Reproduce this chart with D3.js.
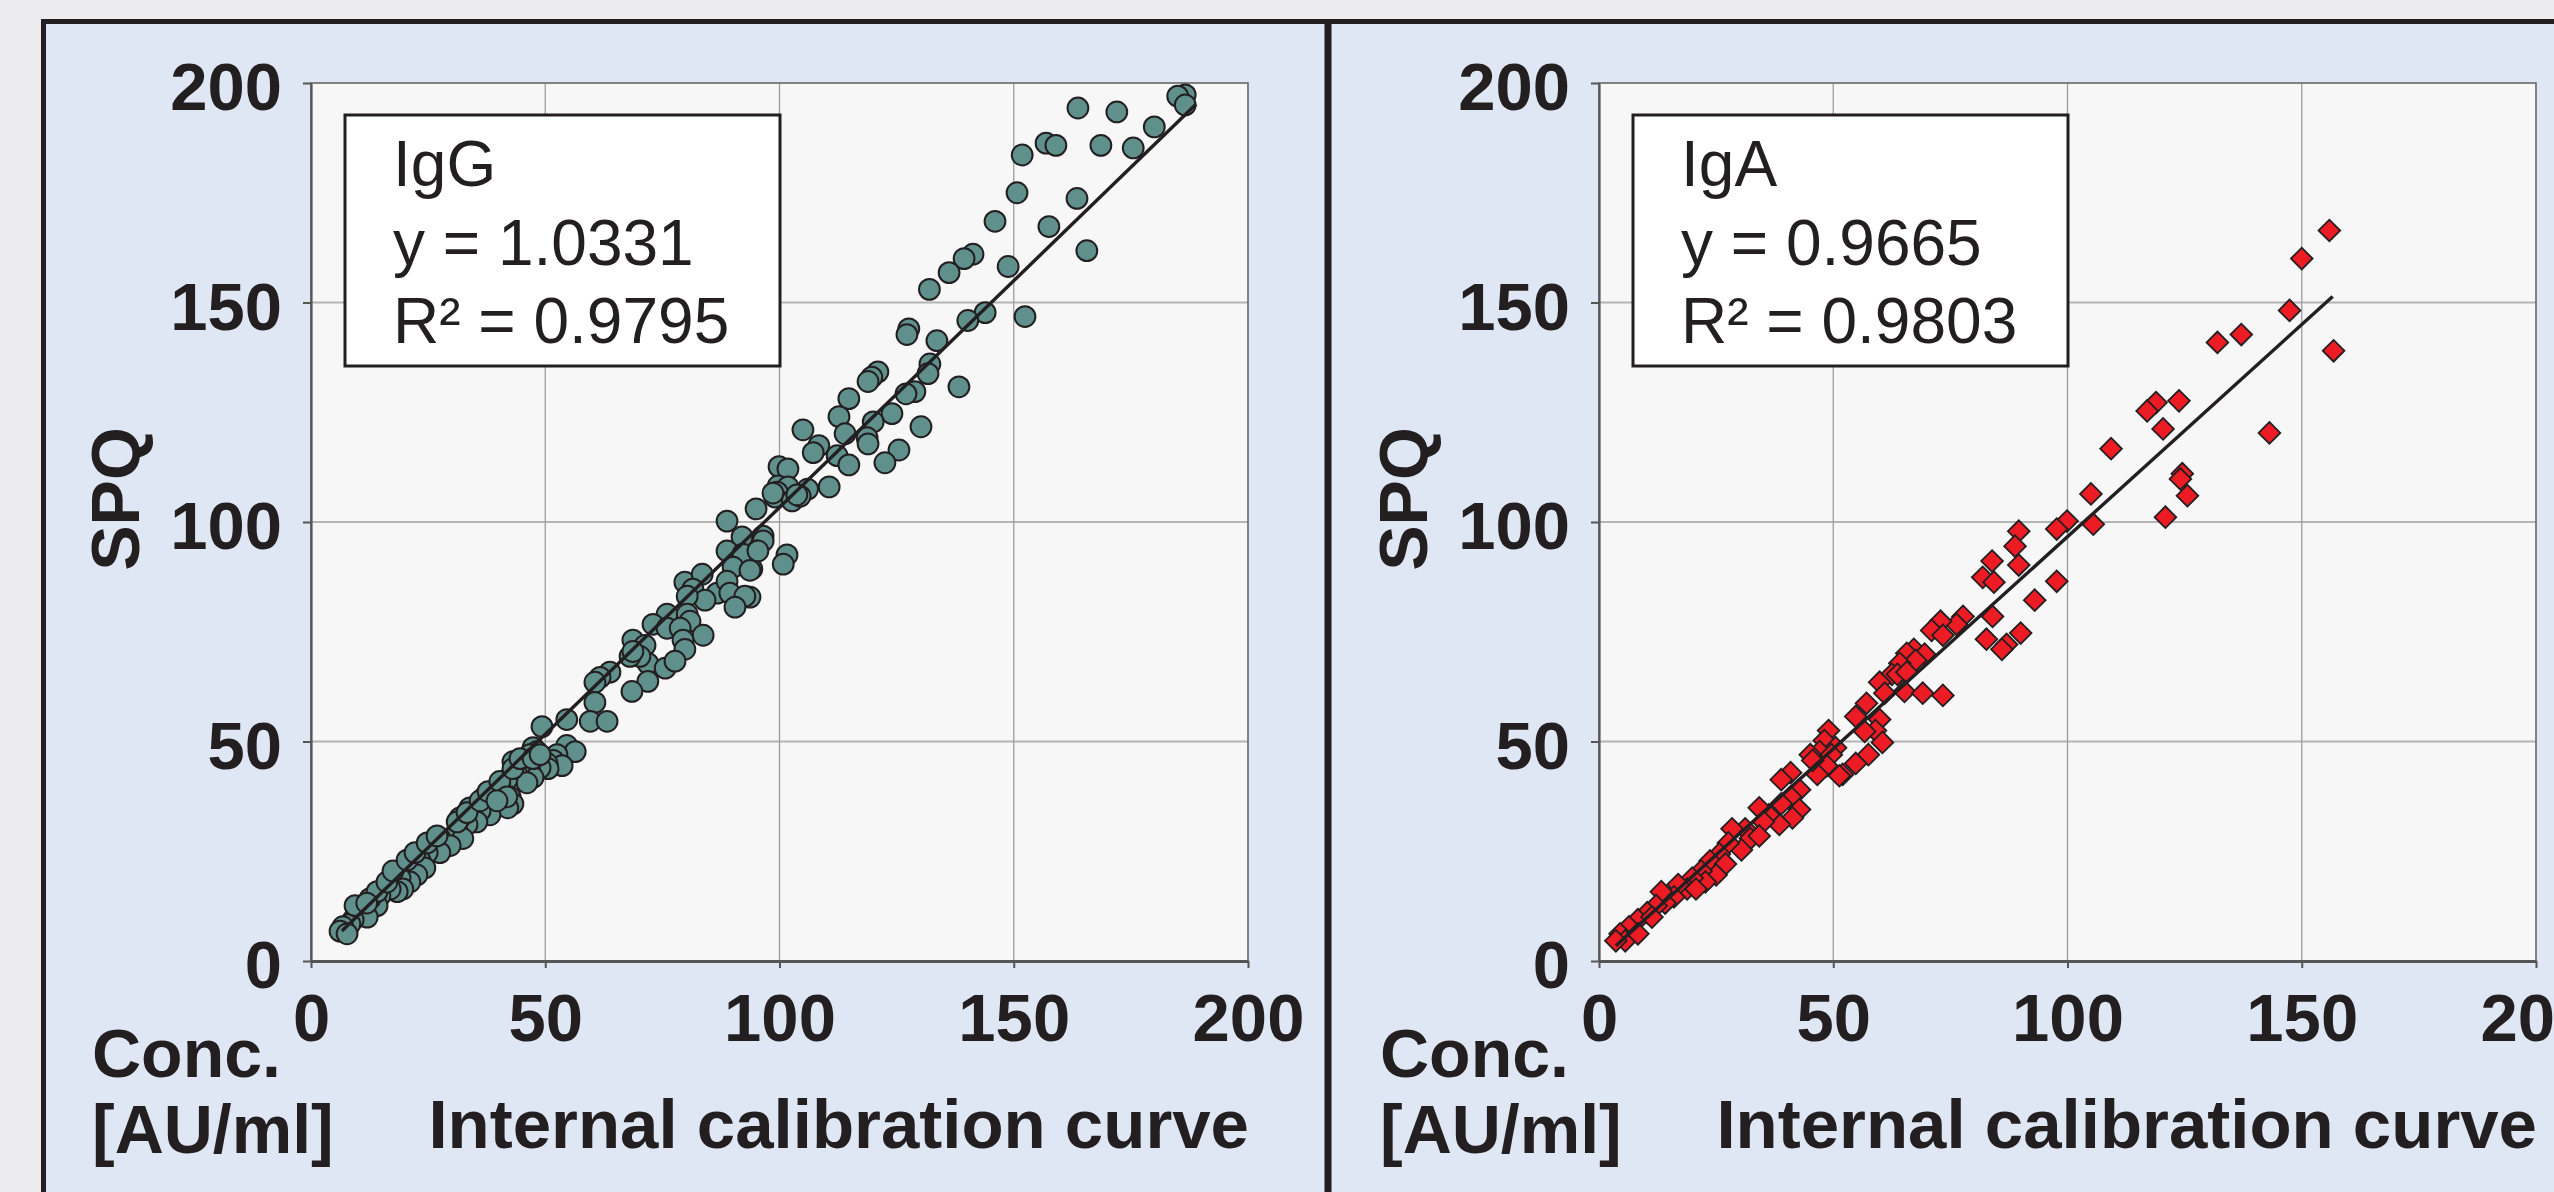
<!DOCTYPE html>
<html>
<head>
<meta charset="utf-8">
<script src="https://cdn.jsdelivr.net/npm/d3@7"></script>
<style>
  body { margin: 0; background: #ececee; overflow: hidden; }
  svg { display: block; }
</style>
</head>
<body>
<svg width="2554" height="1192"></svg>
<script>
// values: [internal calibration curve, SPQ]
var iggPoints = [
  [186.6,197.3],[185,197],[186.6,195],[163.7,194.3],[172,193.4],[180,190],
  [156.9,186.3],[159,185.8],[151.8,183.6],[168.6,185.8],[175.5,185.2],
  [150.7,175],[163.5,173.7],[146,168.5],[157.5,167.3],[165.6,161.8],
  [141.3,161],[139.4,160],[136.2,156.8],[132,153],[148.8,158.2],
  [152.4,146.8],[143.9,147.7],[140.2,145.9],[127.6,144],[127.2,142.7],
  [133.6,141.3],[132.1,136],[131.7,133.8],[121,134.2],[119.7,133],[118.9,132],
  [138.3,130.8],[128.9,129.7],[127,129.2],[114.8,128.1],[124,124.7],[112.7,124],
  [120,122.8],[105,121],[130.2,121.7],[114,120.1],[108.4,117.4],[107.2,115.8],
  [118.7,119.2],[118.9,117.8],[112.3,115.1],[125.5,116.4],[114.8,113],[122.5,113.5],
  [99.9,112.6],[101.8,112.1],[99.7,108.2],[101.8,108],[106,107.5],[110.6,108],
  [99.5,106.8],[99,105.7],[102.7,104.8],[104.4,105.9],[95,103],[96.5,96.8],
  [96.5,95.7],[95.2,93.4],[101.6,92.5],[100.8,90.4],[94.1,89.3],[93.7,82.9],
  [98.6,106.6],[103.7,106.2],[88.8,100.2],[92,96.6],[88.8,93.4],[92.2,92.7],
  [90.1,89.7],[93.7,89],[95.4,93.4],[79.8,86.3],[83.5,88.1],[81.5,84.7],
  [86.7,83.8],[88.8,86.5],[89.4,83.8],[92.6,83.1],[90.5,80.6],[84.1,82.2],
  [80.3,83.1],[76,79],[80.3,79],[80.9,77.4],[83.7,74.2],[73,76.7],[76,75.8],
  [78.8,75.8],[79.4,73.1],[79.8,71],[68.7,73.1],[71.3,71.9],[71.9,67.8],
  [70.2,69.4],[68.1,69.4],[68.7,70.5],[75.6,66.7],[77.7,68.3],[71.9,63.7],
  [68.5,61.4],[63.8,65.8],[61.7,64.6],[60.6,63.5],[60.6,58.9],[59.6,54.6],
  [63.2,54.6],[54.6,55],[49.3,53.4],[47.4,48.6],[48.2,47.7],[54.6,49.1],
  [56.4,47.7],[52.5,47],[51.7,45.7],[53.6,44.5],[50.4,45],[50.6,43.8],[48.9,44],
  [46.7,47],[46.7,43.4],[47.4,41.8],[44.6,44.5],[43.9,42.5],[46.1,40.6],
  [43.1,45.4],[41.8,41.3],[40.3,39.7],[42.5,37.4],[43.1,35.8],[42,34.9],
  [38.8,38.6],[37.6,36.1],[38.2,33.3],[36.1,34.2],[37.1,37.4],[33.9,34.9],
  [35.4,31.7],[33.3,31.1],[31.8,32.6],[31.2,29.5],[32.4,27.9],[27.5,27.9],
  [29.7,26.3],[25.4,26.9],[27.5,24.7],[24.8,24.7],[23.3,22.8],[21.8,21.2],
  [24.3,21.2],[22.6,19.6],[21.1,18],[19,18.9],[19.6,16.4],[18.4,15.8],
  [16.9,16.4],[14.7,14.8],[14.1,12.6],[12.6,14.2],[11.1,12.6],[9.8,11],[12,10],
  [9,9.4],[8.3,8.4],[6.8,7.8],[6.2,6.8],[7.7,6.2],[14.1,15.8],
  [9.4,12.6],[11.9,13.2],[16.2,18],[17.5,20.5],[20.5,23],[22.2,24.7],[24.8,26.9],
  [26.9,28.5],[31.2,31.7],[33.3,33.8],[36.1,36.5],[37.8,38.6],[40.3,40.9],
  [43.1,43.8],[44.6,46.1],[47.4,46.1],[48.9,47],[41.8,37.4],[39.7,36.5]
];

var igaPoints = [
  [155.9,166.4],[150,160],[147.4,148.2],[156.8,139],[137.1,142.7],[132,140.9],
  [123.8,127.6],[118.9,127.2],[117,125.3],[120.4,121.2],[143.1,120.3],[109.3,116.7],
  [124.5,111],[124.1,109.8],[105,106.4],[125.6,106],
  [120.9,101.1],[105.5,99.5],[99.9,100.2],[97.7,98.4],[89.6,97.9],[88.8,94.5],
  [89.6,90.2],[97.7,86.5],[93,82.2],[84,78.5],[77.7,78.5],[76.3,76.7],[82.7,73.3],
  [87,72.1],[86,71],[90,74.7],[83.9,91.1],[81.9,87.4],[84.3,86.3],
  [72.9,77.4],[71,75.3],[73.4,74.2],[67.2,71],[65.7,70.1],[69.5,69.9],[67.6,68.5],
  [64.2,67.8],[62.5,65.3],[59.9,63.5],[63.7,65.3],[65.7,65.8],[65.2,61.4],
  [69.1,61],[73.4,60.5],[61,61],[57.1,58.7],[59.9,55],[54.8,55.7],[59,52.5],
  [56.7,52.3],[60.5,49.8],[57.5,47],[54.8,45],[52,42.5],[49,52.5],[48.1,50.2],
  [50.5,48.6],[47.1,47.7],[45.1,47],[49.6,47],[48.6,44.5],[46.6,42.5],[51.3,42.2],
  [45.6,45.7],[40.9,42.9],[38.9,41.3],[42.8,39],[40.9,37.4],[38.9,35.8],[42.8,34.5],
  [41.3,32.6],[38.5,31.1],[36.2,33.3],[34.2,34.9],[35.1,31.7],[31.2,30.1],
  [28.4,30.1],[32.3,27.9],[30.4,25.3],[27.6,26.9],[34.2,28.5],[25.7,24.4],
  [23.7,22.8],[27,22.1],[25,19.6],[21.8,20.5],[22.7,18],[19.9,18.9],[18.8,16.4],
  [20.7,16.4],[16.9,17.4],[16,14.6],[14.1,13.2],[13.3,15.8],[12.2,12.6],[10.3,11],
  [8.3,9.4],[11.3,10],[6.4,7.8],[4.5,6.2],[5.6,4.6],[8.3,6.2],[3.6,4.6]
];

var axisTicks = [0, 50, 100, 150, 200];
var panelNames = ["IgG", "IgA"];
var slopes = ["1.0331", "0.9665"];
var r2Values = ["0.9795", "0.9803"];
var fitRanges = [[6.6, 188.9], [3.6, 156.6]];

var font = "'Liberation Sans', Arial, Helvetica, sans-serif";
var ink = "#231f20";

var svg = d3.select("svg");
var panelW = 1288;

// light blue board
svg.append("rect")
    .attr("x", 43).attr("y", 21)
    .attr("width", 2554 - 43).attr("height", 1192 - 21)
    .attr("fill", "#e0e7f4");

function drawPanel(i, points, marker) {
    var g = svg.append("g").attr("transform", "translate(" + (i * panelW) + ",0)");

    var x = d3.scaleLinear().domain([0, 200]).range([311, 1248]);
    var y = d3.scaleLinear().domain([0, 200]).range([961, 83]);

    g.append("rect")
        .attr("x", x(0)).attr("y", y(200))
        .attr("width", x(200) - x(0)).attr("height", y(0) - y(200))
        .attr("fill", "#f7f7f7");

    // grid
    g.append("g").selectAll("line")
        .data(axisTicks.slice(1, 4))
        .enter().append("line")
        .attr("x1", x(0)).attr("x2", x(200))
        .attr("y1", function(d) { return y(d); })
        .attr("y2", function(d) { return y(d); })
        .attr("stroke", "#b4b4b4").attr("stroke-width", 2);

    g.append("g").selectAll("line")
        .data(axisTicks.slice(1, 4))
        .enter().append("line")
        .attr("y1", y(0)).attr("y2", y(200))
        .attr("x1", function(d) { return x(d); })
        .attr("x2", function(d) { return x(d); })
        .attr("stroke", "#9c9c9c").attr("stroke-width", 1.3);

    g.append("rect")
        .attr("x", x(0)).attr("y", y(200))
        .attr("width", x(200) - x(0)).attr("height", y(0) - y(200))
        .attr("fill", "none").attr("stroke", "#666").attr("stroke-width", 1.6);

    // axes
    var yAxis = g.append("g")
        .attr("transform", "translate(" + x(0) + ",0)")
        .call(d3.axisLeft(y).tickValues(axisTicks).tickSize(8).tickSizeOuter(0).tickPadding(21));
    var xAxis = g.append("g")
        .attr("transform", "translate(0," + y(0) + ")")
        .call(d3.axisBottom(x).tickValues(axisTicks).tickSize(7).tickSizeOuter(0).tickPadding(25));

    [yAxis, xAxis].forEach(function(a) {
        a.attr("font-size", 67).attr("font-family", font).attr("font-weight", "bold");
        a.selectAll("text").attr("fill", ink);
        a.selectAll("line").attr("stroke", "#555").attr("stroke-width", 2);
    });
    yAxis.selectAll("text").attr("dy", "0.4em");
    yAxis.select(".domain").attr("stroke", "#555").attr("stroke-width", 2.2);
    xAxis.select(".domain").attr("stroke", "#555").attr("stroke-width", 3.2);

    // points
    if (marker == "circle") {
        g.append("g").selectAll("circle")
            .data(points)
            .enter().append("circle")
            .attr("cx", function(d) { return x(d[0]); })
            .attr("cy", function(d) { return y(d[1]); })
            .attr("r", 10.4)
            .attr("fill", "#5f908c")
            .attr("stroke", ink).attr("stroke-width", 2);
    } else {
        var diamond = d3.symbol().type(d3.symbolSquare).size(235);
        g.append("g").selectAll("path")
            .data(points)
            .enter().append("path")
            .attr("d", diamond)
            .attr("transform", function(d) { return "translate(" + x(d[0]) + "," + y(d[1]) + ") rotate(45)"; })
            .attr("fill", "#ed1c24")
            .attr("stroke", ink).attr("stroke-width", 1.8);
    }

    // fitted line through origin
    var fit = fitRanges[i].map(function(v) { return [v, v * +slopes[i]]; });
    g.append("path")
        .datum(fit)
        .attr("d", d3.line().x(function(d) { return x(d[0]); }).y(function(d) { return y(d[1]); }))
        .attr("stroke", ink).attr("stroke-width", 3.4).attr("fill", "none");

    // equation box
    g.append("rect")
        .attr("x", 345).attr("y", 115).attr("width", 435).attr("height", 251)
        .attr("fill", "#fff").attr("stroke", ink).attr("stroke-width", 3);

    var lines = [panelNames[i], "y = " + slopes[i], "R² = " + r2Values[i]];
    g.append("g").selectAll("text")
        .data(lines)
        .enter().append("text")
        .attr("x", 393)
        .attr("y", function(d, k) { return 186 + k * 78.5; })
        .attr("font-family", font).attr("font-size", 64)
        .attr("fill", ink)
        .text(function(d) { return d; });

    // axis titles
    g.append("text")
        .attr("transform", "translate(139,499) rotate(-90)")
        .attr("text-anchor", "middle")
        .attr("font-family", font).attr("font-size", 68).attr("font-weight", "bold")
        .attr("fill", ink)
        .text("SPQ");

    g.append("text")
        .attr("x", 92).attr("y", 1077)
        .attr("font-family", font).attr("font-size", 68).attr("font-weight", "bold")
        .attr("fill", ink)
        .text("Conc.");
    g.append("text")
        .attr("x", 92).attr("y", 1153)
        .attr("font-family", font).attr("font-size", 68).attr("font-weight", "bold")
        .attr("fill", ink)
        .text("[AU/ml]");

    g.append("text")
        .attr("x", x(200) + 1).attr("y", 1148)
        .attr("text-anchor", "end")
        .attr("font-family", font).attr("font-size", 69).attr("font-weight", "bold")
        .attr("fill", ink)
        .text("Internal calibration curve");
}

drawPanel(0, iggPoints, "circle");
drawPanel(1, igaPoints, "diamond");

// frame lines
svg.append("line").attr("x1", 41).attr("x2", 2554).attr("y1", 21.5).attr("y2", 21.5)
    .attr("stroke", ink).attr("stroke-width", 5);
svg.append("line").attr("x1", 43.5).attr("x2", 43.5).attr("y1", 19).attr("y2", 1192)
    .attr("stroke", ink).attr("stroke-width", 5);
svg.append("line").attr("x1", 1328).attr("x2", 1328).attr("y1", 19).attr("y2", 1192)
    .attr("stroke", ink).attr("stroke-width", 7);
</script>
</body>
</html>
